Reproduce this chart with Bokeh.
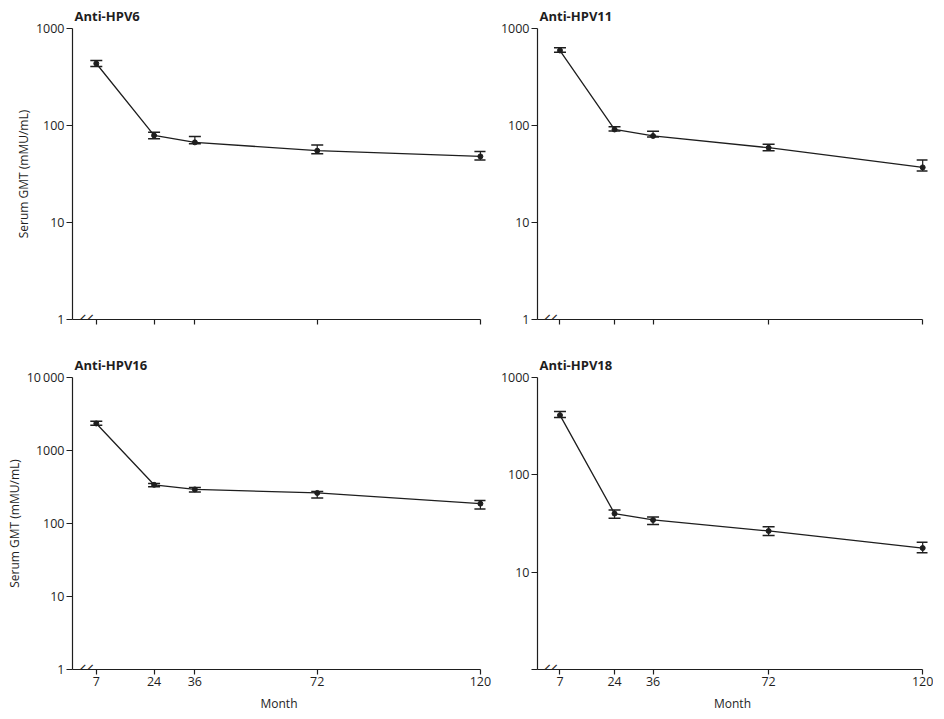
import math
from bokeh.plotting import figure
from bokeh.layouts import column, row
from bokeh.models import FixedTicker, Range1d, Label, Whisker, TeeHead, ColumnDataSource
from bokeh.embed import file_html
from bokeh.resources import INLINE

# ---- data ----
months = [7, 24, 36, 72, 120]
x_ticks = [7, 24, 36, 72, 120]

hpv6_gmt = [436, 79, 67, 55, 48]
hpv6_lo = [405, 73, 65, 51, 44]
hpv6_hi = [468, 85, 77, 63, 54]

hpv11_gmt = [593, 91, 78, 59, 37]
hpv11_lo = [570, 88, 76, 55, 34]
hpv11_hi = [632, 97, 87, 64, 44]

hpv16_gmt = [2345, 339, 293, 262, 187]
hpv16_lo = [2220, 319, 270, 224, 158]
hpv16_hi = [2520, 353, 312, 275, 207]

hpv18_gmt = [410, 40, 34.4, 26.5, 17.7]
hpv18_lo = [389, 35.8, 30.8, 23.8, 15.8]
hpv18_hi = [448, 43.5, 36.9, 29.2, 20.3]

ticks_3 = [1, 10, 100, 1000]
ticks_4 = [1, 10, 100, 1000, 10000]
tick_text = {1: "1", 10: "10", 100: "100", 1000: "1000", 10000: "10\u2009000"}

INK = "#1e1e1e"
FONT = "Open Sans"
X_END = 121.5  # a little room past the last month so its marks are not clipped


def panel(title, gmt, lo, hi, y_end, y_ticks, hide_one, show_x, ylabel,
          w, h, bl, br, bt, bb):
    p = figure(width=w, height=h, y_axis_type="log",
               x_range=Range1d(0, X_END), y_range=Range1d(1, y_end),
               output_backend="svg", toolbar_location=None,
               min_border_left=bl, min_border_right=br,
               min_border_top=bt, min_border_bottom=bb,
               background_fill_color="white", border_fill_color="white")
    p.outline_line_color = None
    p.grid.visible = False

    p.title.text = title
    p.title.text_font = FONT
    p.title.text_font_size = "13px"
    p.title.text_font_style = "bold"
    p.title.text_color = INK
    p.title.align = "left"
    p.title.offset = 2
    p.title.standoff = 8

    for ax in (p.xaxis[0], p.yaxis[0]):
        ax.axis_line_color = INK
        ax.axis_line_width = 1.2
        ax.major_tick_line_color = INK
        ax.major_tick_line_width = 1.2
        ax.minor_tick_line_color = None
        ax.major_tick_in = 0
        ax.major_label_text_font = FONT
        ax.major_label_text_font_size = "12.5px"
        ax.major_label_text_color = INK
        ax.axis_label_text_font = FONT
        ax.axis_label_text_font_size = "12px"
        ax.axis_label_text_font_style = "normal"
        ax.axis_label_text_color = INK

    p.xaxis.ticker = FixedTicker(ticks=x_ticks, minor_ticks=[])
    p.xaxis.bounds = (0, 120)
    p.xaxis.major_tick_out = 5
    p.xaxis.major_label_standoff = 2
    if show_x:
        p.xaxis.axis_label = "Month"
        p.xaxis.axis_label_standoff = 6
    else:
        p.xaxis.major_label_overrides = {t: "" for t in x_ticks}

    p.yaxis.ticker = FixedTicker(ticks=y_ticks, minor_ticks=[])
    p.yaxis.major_tick_out = 6
    p.yaxis.major_label_standoff = 2
    over = {t: tick_text[t] for t in y_ticks}
    if hide_one:
        over[1] = ""
    p.yaxis.major_label_overrides = over
    if ylabel:
        p.yaxis.axis_label = ylabel
        p.yaxis.axis_label_standoff = 1

    # axis break marks
    for bx in (2.4, 4.6):
        p.add_layout(Label(x=bx, y=1, text="|", angle=-math.pi / 4,
                           text_align="center", text_baseline="middle",
                           text_font=FONT, text_font_size="17px",
                           text_color=INK))

    # error bars
    src = ColumnDataSource(dict(x=months, lo=lo, hi=hi))
    p.add_layout(Whisker(source=src, base="x", lower="lo", upper="hi",
                         line_color=INK, line_width=1.2,
                         upper_head=TeeHead(size=12, line_color=INK, line_width=1.5),
                         lower_head=TeeHead(size=12, line_color=INK, line_width=1.5)))
    # series
    p.line(months, gmt, line_color=INK, line_width=1.3)
    p.scatter(months, gmt, marker="circle", size=5, fill_color=INK, line_color=INK)
    return p


ylab = "Serum GMT (mMU/mL)"
p1 = panel("Anti-HPV6", hpv6_gmt, hpv6_lo, hpv6_hi, 1000, ticks_3, False, False, ylab,
           493, 347, 72, 8, 28, 28)
p2 = panel("Anti-HPV11", hpv11_gmt, hpv11_lo, hpv11_hi, 1000, ticks_3, False, False, None,
           440, 347, 44, 6, 28, 28)
p3 = panel("Anti-HPV16", hpv16_gmt, hpv16_lo, hpv16_hi, 10000, ticks_4, False, True, ylab,
           493, 368, 72, 8, 28, 46)
p4 = panel("Anti-HPV18", hpv18_gmt, hpv18_lo, hpv18_hi, 1000, ticks_3, True, True, None,
           440, 368, 44, 6, 30, 46)

layout = column(row(p1, p2), row(p3, p4))
open("out.html", "w").write(file_html(layout, INLINE))
